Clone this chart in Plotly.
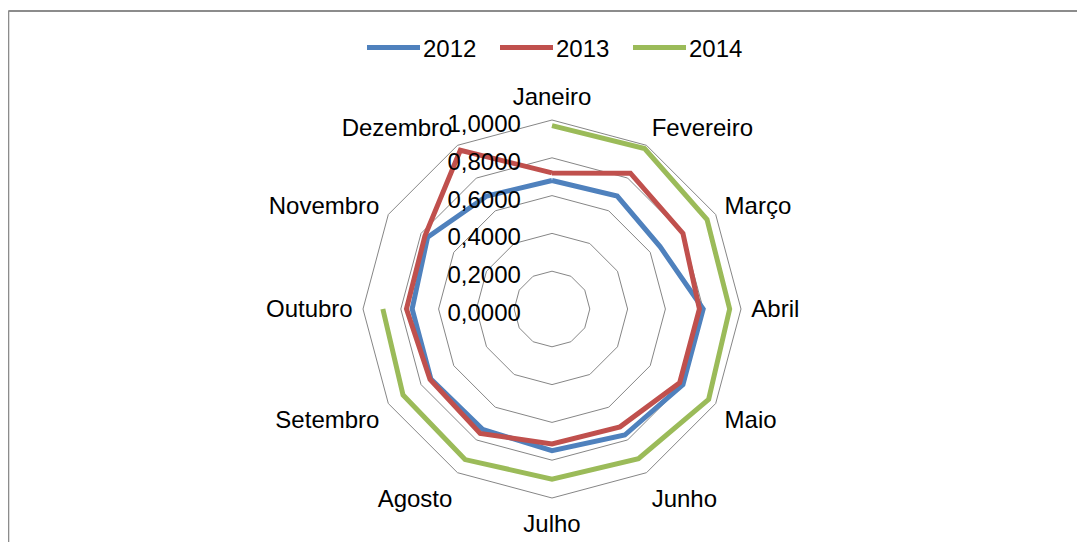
import plotly.graph_objects as go

W, H = 1085, 542
OFF = 8  # page body margin offset

categories = ["Janeiro", "Fevereiro", "Março", "Abril", "Maio", "Junho",
              "Julho", "Agosto", "Setembro", "Outubro", "Novembro", "Dezembro"]

v2012 = [0.68, 0.69, 0.66, 0.80, 0.80, 0.77, 0.75, 0.735, 0.74, 0.74, 0.76, 0.69]
v2013 = [0.72, 0.83, 0.80, 0.78, 0.78, 0.72, 0.714, 0.76, 0.745, 0.77, 0.776, 0.97]
v2014 = [0.97, 0.98, 0.947, 0.94, 0.957, 0.915, 0.90, 0.92, 0.91, 0.895, None, None]

series_names = ["2012", "2013", "2014"]
colors = ["#4F81BD", "#C0504D", "#9BBB59"]
radial_ticks = [0.0, 0.2, 0.4, 0.6, 0.8, 1.0]

FONT = "Liberation Sans, Arial, sans-serif"
FS = 24

fig = go.Figure()
for name, vals, col in zip(series_names, [v2012, v2013, v2014], colors):
    r = list(vals) + [vals[0]]
    th = categories + [categories[0]]
    fig.add_trace(go.Scatterpolar(
        r=r, theta=th, mode="lines", name=name,
        line=dict(color=col, width=5), connectgaps=False, showlegend=False,
    ))


def px(x):
    return (x - OFF) / W


def py(y):
    return 1 - (y - OFF) / H


# manual legend (line sample + label), built from the series list
shapes = []
annotations = []
for i, (name, col) in enumerate(zip(series_names, colors)):
    x0 = 367 + i * 133
    shapes.append(dict(type="line", xref="paper", yref="paper",
                       x0=px(x0), x1=px(x0 + 53), y0=py(47.5), y1=py(47.5),
                       line=dict(color=col, width=5)))
    annotations.append(dict(text=name, xref="paper", yref="paper",
                            x=px(x0 + 54), y=py(48), xanchor="left", yanchor="middle",
                            showarrow=False, font=dict(size=FS, color="black", family=FONT)))

# chart frame
shapes.append(dict(type="line", xref="paper", yref="paper", x0=px(8.3), x1=px(8.3),
                   y0=-0.05, y1=py(11), line=dict(color="#8c8c8c", width=2)))
shapes.append(dict(type="line", xref="paper", yref="paper", x0=px(8.3), x1=1.05,
                   y0=py(11), y1=py(11), line=dict(color="#8c8c8c", width=2)))

cx, cy, R = 552, 309, 189
fig.update_layout(
    width=W, height=H,
    margin=dict(l=0, r=0, t=0, b=0),
    paper_bgcolor="white",
    separators=",.",
    font=dict(family=FONT, size=FS, color="black"),
    showlegend=False,
    polar=dict(
        domain=dict(x=[px(cx - R), px(cx + R)],
                    y=[py(cy + R), py(cy - R)]),
        bgcolor="white",
        gridshape="linear",
        radialaxis=dict(range=[0, 1], tickvals=radial_ticks, tickformat=".4f",
                        angle=90, side="counterclockwise", showline=False,
                        gridcolor="#868686", gridwidth=1,
                        ticks="outside", ticklen=9, tickcolor="rgba(0,0,0,0)",
                        tickfont=dict(size=FS, color="black"), layer="above traces"),
        angularaxis=dict(direction="clockwise", rotation=90,
                         categoryorder="array", categoryarray=categories,
                         showgrid=False, showline=True, linecolor="#868686",
                         linewidth=1, ticks="outside", ticklen=5,
                         tickcolor="rgba(0,0,0,0)",
                         tickfont=dict(size=FS, color="black")),
    ),
    shapes=shapes,
    annotations=annotations,
)

fig.write_html("out.html")
